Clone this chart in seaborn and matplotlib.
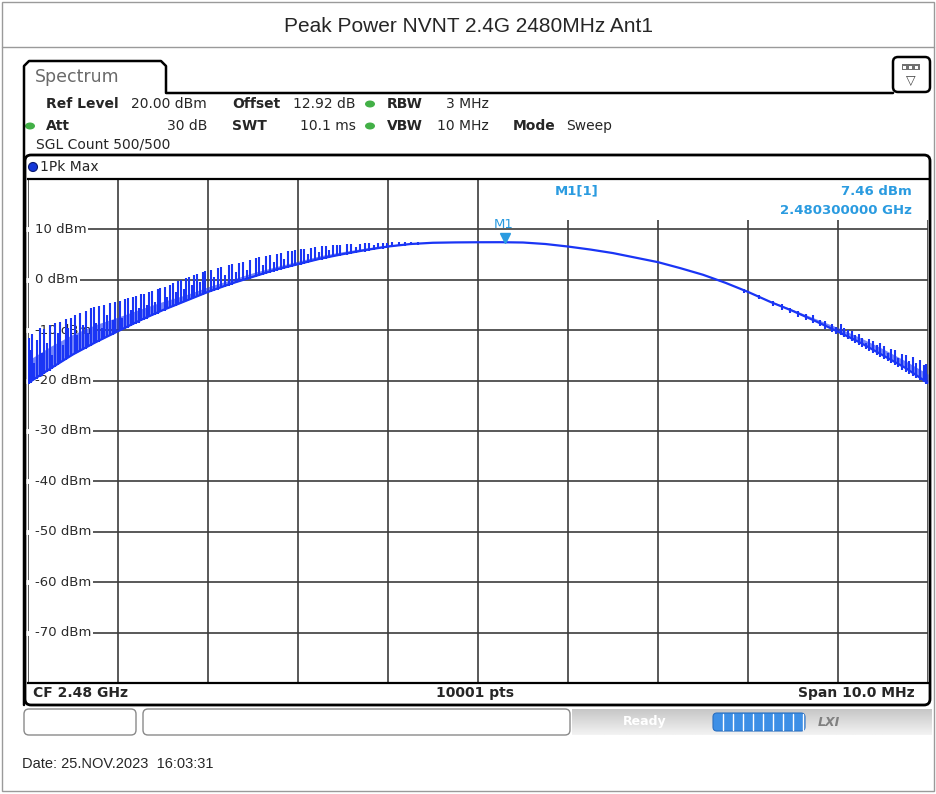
"""Spectrum analyser screenshot: peak power, 2480 MHz, Ant1."""
import matplotlib

matplotlib.use("Agg")
import matplotlib.pyplot as plt
import matplotlib.patches as mpatches
import matplotlib.transforms as mtransforms
import numpy as np
import pandas as pd
import seaborn as sns

W, H = 937, 794

# trace, frequency as offset from CF 2.48 GHz in MHz
base_mhz = [-5.0, -4.75, -4.5, -4.25, -4.0, -3.75, -3.5, -3.25, -3.0, -2.75,
            -2.5, -2.25, -2.0, -1.75, -1.5, -1.25, -1.0, -0.75, -0.5, -0.25,
            0.0, 0.25, 0.5, 0.75, 1.0, 1.25, 1.5, 1.75, 2.0, 2.25,
            2.5, 2.75, 3.0, 3.25, 3.5, 3.75, 4.0, 4.25, 4.5, 4.75, 5.0]
base_dbm = [-20.5, -17.6, -14.8, -12.4, -10.2, -8.0, -6.0, -4.2, -2.4, -0.8,
            0.6, 2.0, 3.1, 4.2, 5.1, 5.9, 6.6, 7.1, 7.35, 7.42,
            7.45, 7.46, 7.4, 7.1, 6.6, 6.0, 5.3, 4.4, 3.5, 2.3,
            1.0, -0.6, -2.4, -4.4, -6.2, -8.2, -10.3, -12.5, -15.0, -17.5, -20.5]
# top of the densely filled band just above the trace
band_dbm = [-16.0, -13.2, -10.8, -8.9, -7.4, -5.8, -4.3, -3.0, -1.4, 0.0,
            1.4, 2.6, 3.7, 4.8, 5.6, 6.3, 6.9, 7.3, 7.4, 7.42,
            7.45, 7.46, 7.4, 7.1, 6.6, 6.0, 5.3, 4.4, 3.5, 2.3,
            1.0, -0.6, -2.3, -4.2, -5.9, -7.7, -9.5, -11.5, -13.7, -16.1, -18.7]

# peak-hold spikes: position, foot and top
spike_mhz = [
    -4.99, -4.97, -4.95, -4.93, -4.90, -4.87, -4.85, -4.82, -4.79, -4.76,
    -4.73, -4.70, -4.67, -4.64, -4.61, -4.58, -4.55, -4.52,
    -4.48, -4.45, -4.42, -4.39, -4.36, -4.33, -4.30, -4.27, -4.24, -4.21,
    -4.18, -4.15, -4.12, -4.09, -4.06, -4.03,
    -3.98, -3.95, -3.92, -3.89, -3.86, -3.83, -3.80, -3.77, -3.74, -3.71,
    -3.68, -3.65, -3.62, -3.59, -3.56, -3.53,
    -3.48, -3.45, -3.42, -3.39, -3.36, -3.33, -3.30, -3.27, -3.24, -3.21,
    -3.18, -3.15, -3.12, -3.09, -3.06, -3.03,
    -2.97, -2.93, -2.89, -2.85, -2.81, -2.77, -2.73, -2.69, -2.65, -2.61,
    -2.57, -2.53,
    -2.47, -2.43, -2.39, -2.35, -2.31, -2.27, -2.23, -2.19, -2.15, -2.11,
    -2.07, -2.03,
    -1.97, -1.93, -1.89, -1.85, -1.81, -1.77, -1.73, -1.69, -1.65, -1.61,
    -1.57, -1.53,
    -1.46, -1.41, -1.36, -1.31, -1.26, -1.21, -1.16, -1.11, -1.06, -1.01,
    -0.95, -0.88, -0.81, -0.74, -0.67,
    2.95, 3.12, 3.28, 3.38, 3.47, 3.56, 3.64, 3.72, 3.80, 3.86, 3.93, 3.98,
    4.03, 4.07, 4.11, 4.15, 4.19, 4.23, 4.27, 4.31, 4.35, 4.39,
    4.43, 4.47, 4.51, 4.55, 4.59, 4.63, 4.67, 4.71, 4.75, 4.79,
    4.83, 4.87, 4.91, 4.95, 4.98,
]
spike_lo = [
    -20.6, -20.4, -20.1, -19.9, -19.6, -19.2, -19.0, -18.7, -18.3, -18.0,
    -17.6, -17.3, -16.9, -16.6, -16.2, -15.9, -15.5, -15.2,
    -14.8, -14.5, -14.2, -14.0, -13.7, -13.4, -13.1, -12.8, -12.5, -12.3,
    -12.0, -11.7, -11.4, -11.1, -10.9, -10.6,
    -10.2, -10.0, -9.7, -9.5, -9.2, -9.0, -8.7, -8.5, -8.2, -8.0,
    -7.7, -7.4, -7.2, -6.9, -6.7, -6.4,
    -6.1, -5.8, -5.6, -5.4, -5.2, -4.9, -4.7, -4.5, -4.3, -4.1,
    -3.9, -3.7, -3.4, -3.2, -3.0, -2.8,
    -2.4, -2.2, -2.0, -1.7, -1.5, -1.2, -1.0, -0.7, -0.5, -0.3,
    0.0, 0.2,
    0.6, 0.8, 1.0, 1.2, 1.4, 1.6, 1.8, 2.0, 2.2, 2.4,
    2.6, 2.8,
    3.0, 3.2, 3.3, 3.5, 3.7, 3.9, 4.0, 4.2, 4.4, 4.5,
    4.7, 4.8,
    5.0, 5.2, 5.3, 5.5, 5.6, 5.8, 5.9, 6.1, 6.2, 6.4,
    6.5, 6.7, 6.8, 6.9, 7.0,
    -2.6, -3.9, -5.2, -6.0, -6.6, -7.3, -8.0, -8.6, -9.2, -9.7, -10.3, -10.7,
    -11.0, -11.4, -11.8, -12.2, -12.6, -13.0, -13.4, -13.8, -14.2, -14.6,
    -15.0, -15.4, -15.8, -16.2, -16.6, -17.0, -17.4, -17.8, -18.2, -18.6,
    -19.0, -19.4, -19.8, -20.2, -20.6,
]
spike_hi = [
    -11.5, -14.0, -10.8, -16.5, -12.0, -9.5, -14.5, -9.8, -12.5, -9.0,
    -15.0, -8.6, -10.5, -8.3, -13.0, -7.8, -9.5, -7.5,
    -7.0, -11.0, -6.5, -9.0, -6.2, -10.5, -5.6, -5.3, -8.5, -5.2,
    -9.5, -5.0, -7.0, -4.6, -8.0, -4.4,
    -4.2, -7.5, -3.8, -3.6, -6.0, -3.4, -3.3, -5.5, -2.9, -2.8,
    -5.0, -2.5, -2.3, -4.5, -1.9, -1.6,
    -1.4, -3.5, -1.0, -0.6, -2.5, -0.3, 0.0, -1.8, 0.3, 0.6,
    -1.0, 0.9, 1.2, -0.5, 1.6, 1.8,
    2.0, 0.5, 2.3, 2.6, 1.0, 2.9, 3.1, 1.5, 3.4, 3.6,
    2.0, 4.0,
    4.3, 4.5, 3.0, 4.8, 4.9, 3.5, 5.2, 5.4, 4.2, 5.7,
    5.8, 6.0,
    6.1, 6.2, 5.2, 6.4, 6.5, 5.5, 6.7, 6.8, 6.0, 6.9,
    7.0, 7.0,
    7.1, 7.2, 6.6, 7.2, 7.3, 7.3, 6.9, 7.4, 7.4, 7.4,
    7.5, 7.5, 7.5, 7.5, 7.5,
    -1.9, -3.1, -4.3, -4.9, -5.6, -6.1, -6.7, -7.0, -7.9, -8.2, -8.7, -9.4,
    -8.8, -9.5, -10.0, -10.2, -11.0, -10.8, -11.5, -12.5, -11.8, -12.2,
    -13.0, -12.5, -13.2, -14.5, -13.8, -14.0, -15.5, -14.8, -15.0, -16.2,
    -15.3, -16.5, -16.0, -17.0, -16.8,
]

level_ticks = [10, 0, -10, -20, -30, -40, -50, -60, -70]
level_labels = ["10 dBm", "0 dBm", "-10 dBm", "-20 dBm", "-30 dBm",
                "-40 dBm", "-50 dBm", "-60 dBm", "-70 dBm"]
marker_mhz = 0.3
marker_dbm = 7.46

TRACE = "#1a35f5"
MARK = "#2a9be0"
GRID = "#3c3c3c"
GREEN = "#43b047"
SANS = ["DejaVu Sans"]
ARIAL = ["Liberation Sans", "DejaVu Sans"]

sns.set_style("white")
plt.rcParams["font.family"] = SANS

fig = plt.figure(figsize=(W / 100, H / 100), dpi=100)

# pixel overlay for the screen furniture
bg = fig.add_axes([0, 0, 1, 1], zorder=0)
bg.set_xlim(0, W)
bg.set_ylim(H, 0)
bg.axis("off")


def rbox(x0, y0, x1, y1, r=5, **kw):
    p = mpatches.FancyBboxPatch((x0, y0), x1 - x0, y1 - y0,
                                boxstyle=f"round,pad=0,rounding_size={r}", **kw)
    bg.add_patch(p)
    return p


# page frame + title
bg.add_patch(mpatches.Rectangle((2, 2), W - 5, H - 5, fill=False,
                                ec="#9a9a9a", lw=1))
bg.plot([2, W - 3], [47, 47], color="#9a9a9a", lw=1)
bg.text(W / 2, 27, "Peak Power NVNT 2.4G 2480MHz Ant1", ha="center",
        va="center", fontsize=15, family=ARIAL)

# spectrum tab and outline
bg.plot([24, 24, 29, 161, 166, 166, 893], [705, 66, 61, 61, 66, 93, 93],
        color="black", lw=1.8, solid_joinstyle="round")
bg.text(35, 77, "Spectrum", fontsize=12.5, color="#6a6a6a", va="center")
rbox(893, 57, 930, 92, r=5, fill=False, ec="black", lw=1.8)
bg.add_patch(mpatches.Rectangle((902, 64), 18, 6, fc="#707070", ec="none"))
for dx in (905, 911, 917):
    bg.add_patch(mpatches.Rectangle((dx - 1.5, 65.5), 3, 3, fc="white",
                                    ec="none"))
bg.text(911, 81, "\u25bd", fontsize=9, ha="center", va="center", color="#444")

# settings header
hdr = dict(fontsize=10, va="center")
bg.text(46, 104, "Ref Level", fontweight="bold", **hdr)
bg.text(207, 104, "20.00 dBm", ha="right", **hdr)
bg.text(232, 104, "Offset", fontweight="bold", **hdr)
bg.text(356, 104, "12.92 dB", ha="right", **hdr)
bg.text(387, 104, "RBW", fontweight="bold", **hdr)
bg.text(489, 104, "3 MHz", ha="right", **hdr)
bg.text(46, 126, "Att", fontweight="bold", **hdr)
bg.text(207, 126, "30 dB", ha="right", **hdr)
bg.text(232, 126, "SWT", fontweight="bold", **hdr)
bg.text(356, 126, "10.1 ms", ha="right", **hdr)
bg.text(387, 126, "VBW", fontweight="bold", **hdr)
bg.text(489, 126, "10 MHz", ha="right", **hdr)
bg.text(513, 126, "Mode", fontweight="bold", **hdr)
bg.text(566, 126, "Sweep", **hdr)
bg.text(36, 145, "SGL Count 500/500", **hdr)
for gx, gy in [(370, 104), (30, 126), (370, 126)]:
    bg.add_patch(mpatches.Ellipse((gx, gy), 10, 7, fc=GREEN, ec="none"))

# diagram frame
rbox(25, 155, 930, 705, r=6, fill=False, ec="black", lw=2)
bg.add_patch(mpatches.Circle((33, 167), 4.5, fc="#1537d8", ec="#0a1a70", lw=0.8))
bg.text(40, 167, "1Pk Max", **hdr)
foot = dict(fontsize=10, fontweight="bold", va="center")
bg.text(33, 693, "CF 2.48 GHz", **foot)
bg.text(475, 693, "10001 pts", ha="center", **foot)
bg.text(915, 693, "Span 10.0 MHz", ha="right", **foot)

# status bar
rbox(24, 709, 136, 735, r=5, fill=False, ec="#8a8a8a", lw=1)
rbox(143, 709, 570, 735, r=5, fill=False, ec="#8a8a8a", lw=1)
grad = np.linspace(0.78, 0.95, 20).reshape(-1, 1)
bg.imshow(np.repeat(grad, 2, axis=1), cmap="gray", vmin=0, vmax=1,
          extent=(572, 932, 735, 709), aspect="auto", zorder=0)
bg.text(645, 722, "Ready", fontsize=9, fontweight="bold", color="white",
        ha="center", va="center")
rbox(713, 713, 805, 731, r=4, fc="#3d8fe6", ec="#2a6fc0", lw=0.8)
for sx in range(723, 805, 10):
    bg.plot([sx, sx], [714, 730], color="white", lw=1)
bg.text(829, 722, "LXI", fontsize=9, fontweight="bold", style="italic",
        color="#808080", ha="center", va="center")

bg.text(22, 764, "Date: 25.NOV.2023  16:03:31", fontsize=10.5, va="center",
        family=ARIAL)

# measurement diagram
ax = fig.add_axes([28 / W, 1 - 683 / H, 900 / W, 504 / H], zorder=2)
ax.set_xlim(-5, 5)
ax.set_ylim(-80, 20)
ax.set_xticks(range(-5, 6))
ax.set_yticks(range(-80, 21, 10))
ax.tick_params(length=0, labelleft=False, labelbottom=False)
ax.grid(True, color=GRID, lw=1.2)
ax.set_axisbelow(True)
for side in ["left", "right"]:
    ax.spines[side].set_visible(False)
for side in ["top", "bottom"]:
    ax.spines[side].set_linewidth(1.6)
    ax.spines[side].set_color("black")

# white patch where the marker readout sits
ax.add_patch(mpatches.Rectangle((0.5, 11.9), 4.5, 8.1, fc="white", ec="none",
                                zorder=1.5))

ylab = mtransforms.blended_transform_factory(ax.transAxes, ax.transData)
ax.hlines(level_ticks, -0.002, 0.012, transform=ylab, colors="white", lw=3.5,
          zorder=1.8, clip_on=False)
for lv, txt in zip(level_ticks, level_labels):
    ax.text(0.008, lv, txt, transform=ylab, fontsize=9.5, va="center",
            color="#2a2a2a", zorder=2,
            bbox=dict(fc="white", ec="none", pad=1.0))

trace = pd.DataFrame({"mhz": base_mhz, "dbm": base_dbm, "band": band_dbm})
ax.fill_between(trace["mhz"], trace["dbm"], trace["band"], color=TRACE,
                alpha=0.6, lw=0, zorder=2.8)
sns.lineplot(data=trace, x="mhz", y="dbm", ax=ax, color=TRACE, lw=1.6,
             estimator=None, sort=False, zorder=3)
ax.vlines(spike_mhz, spike_lo, spike_hi, color=TRACE, lw=1.5, zorder=3)
ax.set_xlabel("")
ax.set_ylabel("")

ax.plot(marker_mhz, marker_dbm + 0.9, marker="v", ms=7, color=MARK, zorder=4)
ax.text(marker_mhz - 0.02, marker_dbm + 3.6, "M1", color=MARK, fontsize=9.5,
        ha="center", va="center", zorder=4)
ax.text(1.1, 17.6, "M1[1]", color=MARK, fontsize=9.5, fontweight="bold",
        ha="center", va="center", zorder=4)
ax.text(4.82, 17.6, f"{marker_dbm:.2f} dBm", color=MARK, fontsize=9.5,
        fontweight="bold", ha="right", va="center", zorder=4)
ax.text(4.82, 13.7, "2.480300000 GHz", color=MARK, fontsize=9.5,
        fontweight="bold", ha="right", va="center", zorder=4)

fig.savefig("out.png", dpi=100, facecolor="white")
